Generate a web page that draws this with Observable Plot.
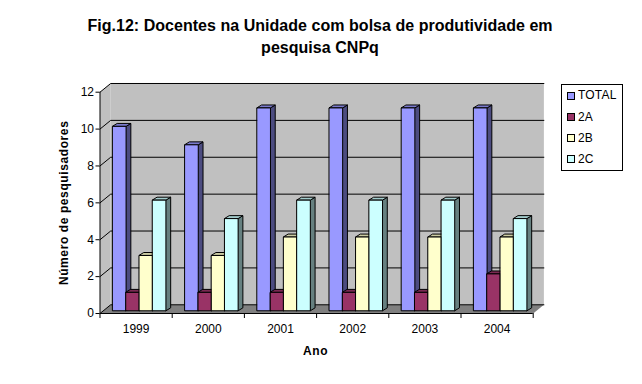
<!DOCTYPE html>
<html><head><meta charset="utf-8">
<script src="https://cdn.jsdelivr.net/npm/d3@7"></script>
<script src="https://cdn.jsdelivr.net/npm/@observablehq/plot@0.6"></script>
<style>
html,body{margin:0;padding:0;background:#fff}
#wrap{position:relative;width:642px;height:384px;overflow:hidden;font-family:"Liberation Sans",Arial,sans-serif;color:#000}
#title{position:absolute;left:40px;width:560px;top:15px;text-align:center;font-weight:bold;font-size:16px;line-height:21.5px;letter-spacing:0.035px}
#legend{position:absolute;left:561px;top:84px;width:60px;height:85px;border:1px solid #000;background:#fff;font-size:12px}
#legend .sw{position:absolute;left:5px;width:6px;height:6px;border:1px solid #000}
#legend .tx{position:absolute;left:16px;height:14px;line-height:14px;white-space:nowrap;letter-spacing:0.2px}
svg{position:absolute;left:0;top:0}
</style></head><body><div id="wrap">
<div id="title">Fig.12: Docentes na Unidade com bolsa de produtividade em<br>pesquisa CNPq</div>
<div id="legend"></div>
</div>
<script>
const years = ["1999","2000","2001","2002","2003","2004"];
const seriesNames = ["TOTAL","2A","2B","2C"];
const total = [10,9,11,11,11,11];
const a2 = [1,1,1,1,1,2];
const b2 = [3,3,4,4,4,4];
const c2 = [6,5,6,6,6,5];
const values = [total,a2,b2,c2];
const front = ["#9999ff","#993366","#ffffcc","#ccffff"];
const side = ["#4c4c80","#4c1933","#808066","#668080"];
const topc = ["#7a7acc","#7a2952","#cccca3","#a3cccc"];

const dX = 0.148, dY = 0.472;     // wall depth in scale units
const bW = 0.184, g0 = 0.177;     // bar width, group inset
const bdX = 0.066, bdY = 0.16;    // bar depth
const base = 0.147;               // bar front-plane lift

const poly = (id, fill, pts) => pts.map(([x,y]) => ({id, fill, x, y}));
const walls = [
  ...poly("left","#c0c0c0",[[0,0],[dX,dY],[dX,12+dY],[0,12]]),
  ...poly("back","#c0c0c0",[[dX,dY],[6+dX,dY],[6+dX,12+dY],[dX,12+dY]]),
  ...poly("floor","#808080",[[0,0],[6,0],[6+dX,dY],[dX,dY]])
];
const gridTicks = [0,2,4,6,8,10,12];
const grid = gridTicks.flatMap(v => [
  {id:v, x:0, y:v},{id:v, x:dX, y:v+dY},{id:v, x:6+dX, y:v+dY}
]);
const bars = [];
years.forEach((yr,i) => {
  values.forEach((vals,s) => {
    const x0 = i + g0 + s*bW, x1 = x0 + bW, v = vals[i] + base, k = yr + s;
    bars.push(...poly(k+"s", side[s], [[x1,base],[x1+bdX,base+bdY],[x1+bdX,v+bdY],[x1,v]]));
    bars.push(...poly(k+"t", topc[s], [[x0,v],[x1,v],[x1+bdX,v+bdY],[x0+bdX,v+bdY]]));
    bars.push(...poly(k+"f", front[s], [[x0,base],[x1,base],[x1,v],[x0,v]]));
  });
});
const boundaries = d3.range(0,7);
const centers = d3.range(0.5,6,1);

const chart = Plot.plot({
  width:642, height:384,
  marginLeft:99.5, marginRight:109.3, marginTop:91.7, marginBottom:71,
  style:{background:"transparent", fontFamily:'"Liberation Sans",Arial,sans-serif', fontSize:"12px", color:"#000", overflow:"visible"},
  x:{type:"linear", domain:[0,6]},
  y:{type:"linear", domain:[0,12]},
  marks:[
    Plot.line(walls,{x:"x",y:"y",z:"id",fill:"fill",stroke:"none",curve:"linear-closed"}),
    Plot.line(grid,{x:"x",y:"y",z:"id",stroke:"#000",strokeWidth:1,curve:"linear"}),
    Plot.line(bars,{x:"x",y:"y",z:"id",fill:"fill",stroke:"#000",strokeWidth:1,curve:"linear-closed"}),
    Plot.ruleY([0],{stroke:"#000"}),
    Plot.ruleX([0],{stroke:"#000"}),
    Plot.axisY({ticks:gridTicks, tickSize:4, tickPadding:2, tickFormat:d=>d, label:null, fontSize:12, stroke:"#000"}),
    Plot.axisX({ticks:boundaries, tickSize:5, tickFormat:()=>"", label:null, stroke:"#000"}),
    Plot.axisX({ticks:centers, tickSize:0, tickPadding:11, tickFormat:d=>years[d-0.5], label:null, fontSize:12}),
    Plot.text(["Número de pesquisadores"],{frameAnchor:"left", textAnchor:"middle", dx:-36, rotate:-90, fontWeight:"bold", fontSize:12, fill:"#000", className:"axis-title"}),
    Plot.text(["Ano"],{frameAnchor:"bottom", dy:41, dx:-1, fontWeight:"bold", fontSize:12, fill:"#000", className:"axis-title"})
  ]
});
d3.select(chart).selectAll(".axis-title text").style("letter-spacing","0.6px");
document.getElementById("wrap").prepend(chart);

const swatchTops = [7,28,49,70];
const textTops = [3,25,46,67];
const legend = d3.select("#legend");
seriesNames.forEach((n,i)=>{
  legend.append("div").attr("class","sw").style("top",swatchTops[i]+"px").style("background",front[i]);
  legend.append("div").attr("class","tx").style("top",textTops[i]+"px").text(n);
});
</script></body></html>
